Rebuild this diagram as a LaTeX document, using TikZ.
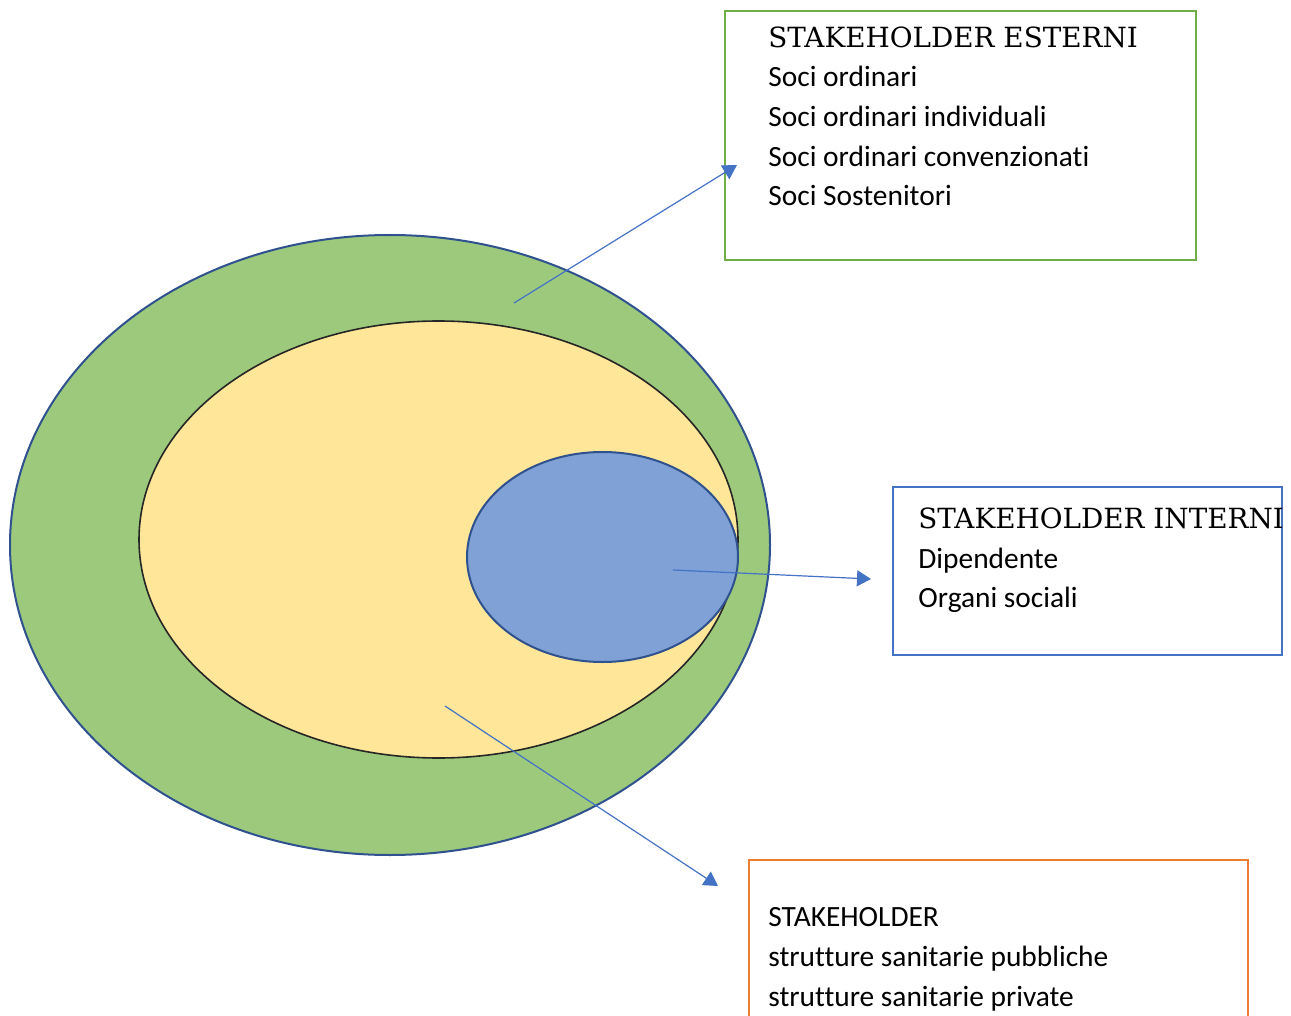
\documentclass[tikz,border=0pt]{standalone}
\usepackage{fontspec}
\setmainfont[Ligatures={NoCommon,NoContextual,NoRare}]{Carlito}
\newfontfamily\titlefont{DejaVu Serif}
\usetikzlibrary{arrows.meta}
\definecolor{outergreen}{HTML}{9DC97D}
\definecolor{middleyellow}{HTML}{FFE699}
\definecolor{innerblue}{HTML}{7FA1D6}
\definecolor{ringblue}{HTML}{2F528F}
\definecolor{arrowblue}{HTML}{4472C4}
\definecolor{boxgreen}{HTML}{70AD47}
\definecolor{boxorange}{HTML}{ED7D31}

\begin{document}
\begin{tikzpicture}[x=0.5pt, y=-0.5pt,
    ringline/.style={draw=ringblue, line width=1pt},
    bodytext/.style={anchor=base west, inner sep=0pt, font=\fontsize{14.7}{20}\selectfont},
    headtext/.style={anchor=base west, inner sep=0pt, font=\titlefont\fontsize{13.9}{18}\selectfont},
    pointer/.style={draw=arrowblue, line width=0.6pt, -{Triangle[length=7pt, width=8pt]}}
    ]
    \path[clip] (0,0) rectangle (1291,1016);

    % rings
    \fill[outergreen, ringline] (390,545) ellipse [x radius=380, y radius=310];
    \fill[middleyellow, draw=black!85, line width=0.8pt] (438.5,539.5) ellipse [x radius=299.5, y radius=218.5];
    \fill[innerblue, ringline] (602.5,557) ellipse [x radius=135.5, y radius=105];

    % boxes
    \draw[boxgreen, line width=1pt] (725,11) rectangle (1196,260);
    \draw[arrowblue, line width=1pt] (893,487) rectangle (1282,655);
    \draw[boxorange, line width=1pt] (749,860) rectangle (1248,1030);

    \node [headtext] (est0) at (768,48) {STAKEHOLDER ESTERNI};
    \node [bodytext] (est1) at (768,87) {Soci ordinari};
    \node [bodytext] (est2) at (768,127) {Soci ordinari individuali};
    \node [bodytext] (est3) at (768,167) {Soci ordinari convenzionati};
    \node [bodytext] (est4) at (768,206) {Soci Sostenitori};

    \node [headtext] (int0) at (918,528) {STAKEHOLDER INTERNI};
    \node [bodytext] (int1) at (918,568) {Dipendente};
    \node [bodytext] (int2) at (918,607) {Organi sociali};

    \node [bodytext] (str0) at (768,926) {STAKEHOLDER};
    \node [bodytext] (str1) at (768,966) {strutture sanitarie pubbliche};
    \node [bodytext] (str2) at (768,1006) {strutture sanitarie private};

    % arrows
    \coordinate (p1) at (514,303);
    \coordinate (q1) at (737,165);
    \coordinate (p2) at (673,570);
    \coordinate (q2) at (871,579);
    \coordinate (p3) at (445,706);
    \coordinate (q3) at (718,886);
    \draw [pointer] (p1) -- (q1);
    \draw [pointer] (p2) -- (q2);
    \draw [pointer] (p3) -- (q3);

\end{tikzpicture}
\end{document}
